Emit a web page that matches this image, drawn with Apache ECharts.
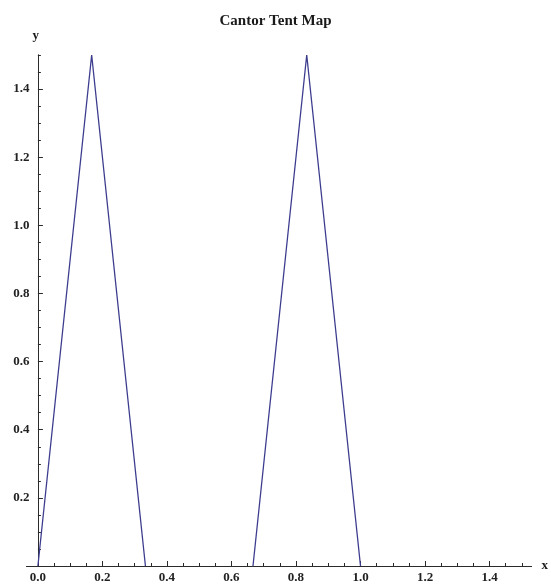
<!DOCTYPE html>
<html>
<head>
<meta charset="utf-8">
<script src="https://cdn.jsdelivr.net/npm/echarts@6/dist/echarts.min.js"></script>
<style>
  html, body { margin: 0; padding: 0; background: #fff; }
  #chart { width: 551px; height: 587px; }
</style>
</head>
<body>
<div id="chart"></div>
<script>
// Cantor tent map: two tents rising to 1.5 over [0, 1/3] and [2/3, 1]
const tentX = [0.0, 0.1667, 0.3333, null, 0.6667, 0.8333, 1.0];
const tentY = [0.0, 1.5, 0.0, null, 0.0, 1.5, 0.0];

// Labelled tick positions
const xMajorTicks = [0.0, 0.2, 0.4, 0.6, 0.8, 1.0, 1.2, 1.4];
const xTickLabels = ['0.0', '0.2', '0.4', '0.6', '0.8', '1.0', '1.2', '1.4'];
const yMajorTicks = [0.2, 0.4, 0.6, 0.8, 1.0, 1.2, 1.4];
const yTickLabels = ['0.2', '0.4', '0.6', '0.8', '1.0', '1.2', '1.4'];

// Unlabelled minor ticks every 0.05
function minorTicks(from, to, majors) {
  const out = [];
  for (let i = Math.round(from * 100); i <= Math.round(to * 100); i += 5) {
    const v = i / 100;
    if (!majors.some(m => Math.abs(m - v) < 1e-9)) out.push(v);
  }
  return out;
}
const xMinorTicks = minorTicks(0.05, 1.5, xMajorTicks.concat([0]));
const yMinorTicks = minorTicks(0.05, 1.5, yMajorTicks);

const serif = '"Liberation Serif", "DejaVu Serif", serif';
const axisColor = '#2a2a2a';
const X_MIN = -0.035, X_MAX = 1.53, Y_MIN = 0, Y_MAX = 1.5;

function labelOf(list, labels) {
  return v => {
    const i = list.findIndex(m => Math.abs(m - v) < 1e-9);
    return i >= 0 ? labels[i] : '';
  };
}

const points = tentX.map((x, i) => (x === null ? [null, null] : [x, tentY[i]]));

const chart = echarts.init(document.getElementById('chart'), null, { renderer: 'canvas' });
chart.setOption({
  animation: false,
  backgroundColor: '#ffffff',
  title: {
    text: 'Cantor Tent Map',
    left: 'center',
    top: 9,
    textStyle: { fontFamily: serif, fontWeight: 'bold', fontSize: 15, color: '#1a1a1a' }
  },
  grid: { left: 26.6, right: 14.2, top: 55, bottom: 21, containLabel: false },
  xAxis: [
    {
      type: 'value', position: 'bottom', min: X_MIN, max: X_MAX,
      name: 'x', nameLocation: 'end', nameGap: 10,
      nameTextStyle: { fontFamily: serif, fontWeight: 'bold', fontSize: 13, color: '#1a1a1a', verticalAlign: 'middle' },
      axisLine: { onZero: true, lineStyle: { color: axisColor, width: 1 } },
      axisTick: { inside: true, length: 5, customValues: xMajorTicks, lineStyle: { color: axisColor } },
      axisLabel: {
        customValues: xMajorTicks, formatter: labelOf(xMajorTicks, xTickLabels),
        fontFamily: serif, fontWeight: 'bold', fontSize: 13, color: '#222', margin: 5
      },
      splitLine: { show: false }
    },
    {
      type: 'value', position: 'bottom', min: X_MIN, max: X_MAX,
      axisLine: { onZero: true, lineStyle: { color: axisColor, width: 1 } },
      axisTick: { inside: true, length: 3, customValues: xMinorTicks, lineStyle: { color: axisColor } },
      axisLabel: { show: false },
      splitLine: { show: false }
    }
  ],
  yAxis: [
    {
      type: 'value', position: 'left', min: Y_MIN, max: Y_MAX,
      name: 'y', nameLocation: 'end', nameGap: 13,
      nameTextStyle: { fontFamily: serif, fontWeight: 'bold', fontSize: 13, color: '#1a1a1a', align: 'right', padding: [0, -1, 0, 0] },
      axisLine: { onZero: true, onZeroAxisIndex: 0, lineStyle: { color: axisColor, width: 1 } },
      axisTick: { inside: true, length: 5, customValues: yMajorTicks, lineStyle: { color: axisColor } },
      axisLabel: {
        customValues: yMajorTicks, formatter: labelOf(yMajorTicks, yTickLabels),
        fontFamily: serif, fontWeight: 'bold', fontSize: 13, color: '#222', margin: -3
      },
      splitLine: { show: false }
    },
    {
      type: 'value', position: 'left', min: Y_MIN, max: Y_MAX,
      axisLine: { onZero: true, onZeroAxisIndex: 0, lineStyle: { color: axisColor, width: 1 } },
      axisTick: { inside: true, length: 3, customValues: yMinorTicks, lineStyle: { color: axisColor } },
      axisLabel: { show: false },
      splitLine: { show: false }
    }
  ],
  series: [
    {
      type: 'line',
      xAxisIndex: 0, yAxisIndex: 0,
      data: points,
      showSymbol: false,
      symbol: 'none',
      connectNulls: false,
      lineStyle: { color: '#3d3d8f', width: 1.3 },
      z: 1
    }
  ]
});
</script>
</body>
</html>
